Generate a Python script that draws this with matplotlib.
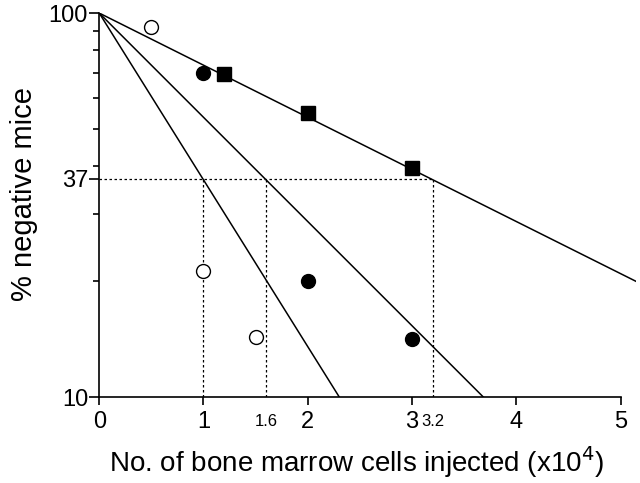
import numpy as np
import matplotlib
matplotlib.use("Agg")
import matplotlib.pyplot as plt
from matplotlib.ticker import FixedLocator, NullFormatter
from matplotlib.transforms import ScaledTranslation

plt.rcParams['font.family'] = ['Liberation Sans', 'DejaVu Sans']

# data
open_x = [0.5, 1.0, 1.5]
open_y = [92, 21.3, 14.3]
fill_x = [1.0, 2.0, 3.0]
fill_y = [70, 20, 14.2]
sq_x = [1.2, 2.0, 3.0]
sq_y = [69.5, 55, 39.5]

# dose giving 37% negative mice for each fitted line
d37 = [1.0, 1.6, 3.2]

fig = plt.figure(figsize=(6.4, 4.83), dpi=100)
ax = fig.add_axes([0.155, 0.178, 0.839, 0.795])

# fitted lines: 100 * exp(-x / d37)
for d in d37:
    xs = np.linspace(0, 5.2, 200)
    ax.plot(xs, 100 * np.exp(-xs / d), color='black', lw=1.1, zorder=2)

# dotted guide lines
ax.plot([0, d37[-1]], [37, 37], ls=(0, (2, 2)), color='black', lw=0.9)
for d in d37:
    ax.plot([d, d], [10, 37], ls=(0, (2, 2)), color='black', lw=0.9)

ax.plot(open_x, open_y, 'o', ms=10, mfc='white', mec='black', mew=1.0, zorder=3)
ax.plot(fill_x, fill_y, 'o', ms=10, mfc='black', mec='black', zorder=3)
ax.plot(sq_x, sq_y, 's', ms=10, mfc='black', mec='black', zorder=3)

ax.set_yscale('log')
ax.set_ylim(10, 100)
ax.set_xlim(0, 5.15)

ax.yaxis.set_major_locator(FixedLocator([10, 37, 100]))
ax.set_yticklabels(['10', '37', '100'], fontsize=17)
ax.yaxis.set_minor_locator(FixedLocator([20, 30, 40, 50, 60, 70, 80, 90]))
ax.yaxis.set_minor_formatter(NullFormatter())
ax.tick_params(axis='y', which='major', length=7, width=1.2, pad=1)
ax.tick_params(axis='y', which='minor', length=4, width=1.2)

ax.set_xticks([0, 1, 2, 3, 4, 5])
ax.set_xticklabels(['0', '1', '2', '3', '4', '5'], fontsize=17)
ax.tick_params(axis='x', which='major', length=6, width=1.2, pad=4)

# small labels for the 37% doses, just below the axis
offset = ax.transData + ScaledTranslation(0, -12 / 72, fig.dpi_scale_trans)
for d in d37[1:]:
    ax.text(d, 10, str(d), transform=offset, ha='center', va='top', fontsize=12)

for s in ['top', 'right']:
    ax.spines[s].set_visible(False)
ax.spines['bottom'].set_bounds(0, 5)
ax.spines['left'].set_linewidth(1.2)
ax.spines['bottom'].set_linewidth(1.2)

ax.set_xlabel('No. of bone marrow cells injected (x10$^{4}$)', fontsize=20, labelpad=8)
ax.xaxis.label.set_x(0.48)
ax.set_ylabel('% negative mice', fontsize=21, labelpad=8)
ax.yaxis.label.set_y(0.53)

fig.savefig('out.png', dpi=100)
